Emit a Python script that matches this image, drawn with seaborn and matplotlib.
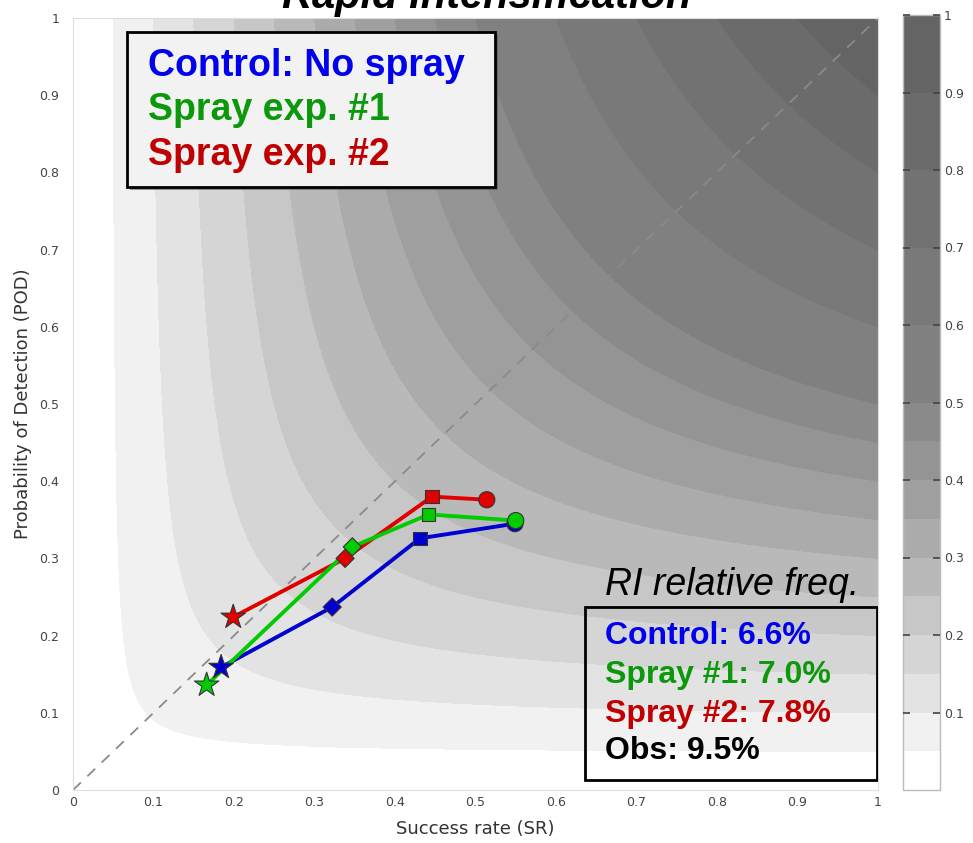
import numpy as np
import pandas as pd
import matplotlib
matplotlib.use("Agg")
import matplotlib.pyplot as plt
import matplotlib.patches as mpatches
import matplotlib.transforms as mtransforms
from matplotlib.colors import ListedColormap, BoundaryNorm
import seaborn as sns

# ---------------- data ----------------
stages = ["star", "diamond", "square", "circle"]
control_sr = [0.184, 0.322, 0.431, 0.549]
control_pod = [0.159, 0.237, 0.326, 0.345]
spray1_sr = [0.166, 0.347, 0.442, 0.550]
spray1_pod = [0.136, 0.315, 0.357, 0.349]
spray2_sr = [0.199, 0.338, 0.446, 0.514]
spray2_pod = [0.224, 0.300, 0.380, 0.376]

csi_levels = [0, 0.05, 0.1, 0.15, 0.2, 0.25, 0.3, 0.35, 0.4, 0.45, 0.5, 0.6, 0.7, 0.8, 0.9, 1.0]
band_colors = ['#ffffff', '#f1f1f1', '#e3e3e3', '#d5d5d5', '#c7c7c7', '#b9b9b9', '#ababab',
               '#9f9f9f', '#949494', '#8a8a8a', '#808080', '#797979', '#727272', '#6b6b6b', '#646464']
tick_vals = [0, 0.1, 0.2, 0.3, 0.4, 0.5, 0.6, 0.7, 0.8, 0.9, 1.0]
tick_labels = ["0", "0.1", "0.2", "0.3", "0.4", "0.5", "0.6", "0.7", "0.8", "0.9", "1"]

legend_lines = ["Control: No spray", "Spray exp. #1", "Spray exp. #2"]
freq_lines = ["Control: 6.6%", "Spray #1: 7.0%", "Spray #2: 7.8%", "Obs: 9.5%"]
text_colors = ["#0000ee", "#0b990b", "#c00000", "#000000"]
line_colors = {"Control": "#0000d0", "Spray #2": "#e00000", "Spray #1": "#00cc00"}

rows = []
for name, srs, pods in [("Control", control_sr, control_pod),
                        ("Spray #2", spray2_sr, spray2_pod),
                        ("Spray #1", spray1_sr, spray1_pod)]:
    for st, s, p in zip(stages, srs, pods):
        rows.append({"exp": name, "stage": st, "SR": s, "POD": p})
df = pd.DataFrame(rows)

# ---------------- figure ----------------
sns.set_theme(style="white")
plt.rcParams['font.family'] = ['DejaVu Sans']

fig = plt.figure(figsize=(9.73, 8.43), dpi=100)
ax = fig.add_axes([73 / 973, 1 - 790 / 843, 805 / 973, 772 / 843])
cax = fig.add_axes([903 / 973, 1 - 790 / 843, 37 / 973, 775 / 843])

g = np.linspace(0.0005, 1, 600)
SR, POD = np.meshgrid(g, g)
CSI = 1.0 / (1.0 / SR + 1.0 / POD - 1.0)
cmap = ListedColormap(band_colors)
norm = BoundaryNorm(csi_levels, cmap.N)
cf = ax.contourf(SR, POD, CSI, levels=csi_levels, cmap=cmap, norm=norm, zorder=0)

ax.plot([0, 1], [0, 1], color="#8a8a8a", lw=1.3, dashes=(6, 5), zorder=1)

sns.lineplot(data=df, x="SR", y="POD", hue="exp", palette=line_colors, sort=False,
             estimator=None, lw=2.8, legend=False, ax=ax, zorder=2)
sns.scatterplot(data=df, x="SR", y="POD", hue="exp", palette=line_colors,
                style="stage", markers={"star": "*", "diamond": "D", "square": "s", "circle": "o"},
                size="stage", sizes={"star": 340, "diamond": 85, "square": 90, "circle": 135},
                edgecolor="#333333", linewidth=0.8, legend=False, ax=ax, zorder=3)

ax.set_xlim(0, 1)
ax.set_ylim(0, 1)
ax.set_xticks(tick_vals)
ax.set_xticklabels(tick_labels)
ax.set_yticks(tick_vals)
ax.set_yticklabels(tick_labels)
ax.tick_params(axis="both", labelsize=9, colors="#444444", length=0, pad=4)
ax.tick_params(axis="y", pad=10)
ax.set_xlabel("Success rate (SR)", fontsize=13, color="#333333", labelpad=8)
ax.set_ylabel("Probability of Detection (POD)", fontsize=13, color="#333333", labelpad=5)
for sp in ax.spines.values():
    sp.set_color("#dddddd")
    sp.set_linewidth(0.8)

# top-left legend box with shadow
x0, y0, w, h = 0.067, 0.781, 0.457, 0.201
shadow_tr = mtransforms.offset_copy(ax.transData, fig=fig, x=3, y=-3, units="dots")
ax.add_patch(mpatches.Rectangle((x0, y0), w, h, transform=shadow_tr, facecolor="#555555",
                                edgecolor="none", alpha=0.6, zorder=4))
ax.add_patch(mpatches.Rectangle((x0, y0), w, h, facecolor="#f2f2f2", edgecolor="black",
                                lw=2, zorder=5))
for txt, yy, c in zip(legend_lines, [0.938, 0.881, 0.823], text_colors):
    ax.text(0.093, yy, txt, color=c, fontsize=27, fontweight="bold",
            family="Liberation Sans", va="center", ha="left", zorder=6)

# bottom-right freq box
ax.text(0.661, 0.266, "RI relative freq.", fontsize=27, style="italic",
        family="Liberation Sans", color="black", va="center", ha="left", zorder=6)
ax.add_patch(mpatches.Rectangle((0.636, 0.013), 0.363, 0.224, facecolor="none",
                                edgecolor="black", lw=2, zorder=5))
for txt, yy, c in zip(freq_lines, [0.1995, 0.149, 0.099, 0.0505], text_colors):
    ax.text(0.661, yy, txt, color=c, fontsize=23, fontweight="bold",
            family="Liberation Sans", va="center", ha="left", zorder=6)

# colorbar
cb = fig.colorbar(cf, cax=cax, ticks=tick_vals[1:], spacing="proportional")
cb.ax.set_axisbelow(False)
cb.ax.minorticks_off()
cb.ax.set_yticks(tick_vals[1:])
cb.ax.set_yticklabels(tick_labels[1:])
cb.ax.tick_params(which="major", labelsize=9, colors="#444444", length=5, width=1.2,
                  direction="in", pad=3, left=True, right=True, labelleft=False, labelright=True)
for t in cb.ax.yaxis.get_major_ticks():
    t.tick1line.set_color("#3a3a3a")
    t.tick2line.set_color("#3a3a3a")
cb.outline.set_edgecolor("#bbbbbb")
cb.outline.set_linewidth(1.0)

# title (partly cut off at top, as in reference)
fig.text(487 / 973, 1 - 8 / 843, "Rapid Intensification", ha="center", va="baseline",
         fontsize=30, fontweight="bold", style="italic", family="Liberation Sans", color="black")

fig.savefig("out.png", dpi=100)
